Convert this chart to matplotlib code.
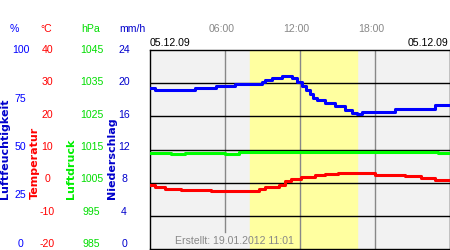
import matplotlib.pyplot as plt

# humidity (%), hours since midnight
hum_t = [0, 0.4, 3.6, 5.3, 6.8, 9.0, 9.2, 9.8, 10.6, 11.4, 11.8, 12.2, 12.5, 12.8,
         13.1, 13.4, 14.0, 14.8, 15.6, 16.2, 16.6, 17.0, 19.6, 22.8, 24]
hum_v = [81, 80, 81, 82, 83, 84, 85, 86, 87, 86, 84, 82, 80, 78,
         76, 75, 73.5, 72, 70, 68.5, 68, 69, 70.5, 72.5, 72.5]

# temperature (°C)
temp_t = [0, 0.4, 1.2, 2.5, 4.9, 8.7, 9.2, 10.3, 10.8, 11.3, 12.1, 13.2, 14.0,
          15.1, 18.0, 20.4, 21.7, 22.8, 24]
temp_v = [-0.7, -1.4, -1.8, -2.2, -2.4, -1.9, -1.4, -0.7, 0.5, 1.1, 1.6, 2.2, 2.7,
          2.9, 2.2, 2.0, 1.5, 0.8, 0.8]

# pressure (hPa)
pres_t = [0, 1.7, 2.8, 4.5, 6.0, 7.1, 8.5, 10.0, 11.5, 13.0, 15.0, 17.5, 20.0, 23.1, 24]
pres_v = [1014.0, 1013.6, 1013.9, 1013.8, 1013.6, 1014.2, 1014.1, 1014.2, 1014.2,
          1014.3, 1014.2, 1014.3, 1014.2, 1014.0, 1014.0]

hum_ticks = [100, 75, 50, 25, 0]
temp_ticks = [40, 30, 20, 10, 0, -10, -20]
pres_ticks = [1045, 1035, 1025, 1015, 1005, 995, 985]
rain_ticks = [24, 20, 16, 12, 8, 4, 0]
time_ticks = [6, 12, 18]
time_labels = ["06:00", "12:00", "18:00"]

plt.rcParams['font.family'] = ['Liberation Sans', 'DejaVu Sans']
FS = 7.6
W, H = 450, 250

fig = plt.figure(figsize=(4.5, 2.5), dpi=100)
ax = fig.add_axes([150 / W, 1 / H, 299.5 / W, 199 / H])
ax.set_facecolor('#f2f2f2')
ax.set_xlim(0, 24)
ax.set_ylim(-20, 40)
ax.axvspan(8.0, 16.6, color='#ffffa0', zorder=0.5)
for h in time_ticks:
    ax.axvline(h, color='#888888', lw=1, zorder=1,
               ymin=(249 - 232) / 199 if h == 6 else 0)
for v in [-10, 0, 10, 20, 30]:
    ax.axhline(v, color='black', lw=1, zorder=1.2)
ax.set_xticks([])
ax.set_yticks([])
for s in ax.spines.values():
    s.set_color('black')
    s.set_linewidth(1)

ax.plot(temp_t, temp_v, color='#ff0000', lw=2.2, drawstyle='steps-post', zorder=3)

ax_p = ax.twinx()
ax_p.set_ylim(985, 1045)
ax_p.plot(pres_t, pres_v, color='#00ff00', lw=2.2, drawstyle='steps-post')
ax_h = ax.twinx()
ax_h.set_ylim(0, 100)
ax_h.plot(hum_t, hum_v, color='#0000ff', lw=2.2, drawstyle='steps-post')
for a in (ax_p, ax_h):
    a.set_yticks([])
    a.set_xlim(0, 24)
    for s in a.spines.values():
        s.set_visible(False)

ax.text((175 - 150) / 299.5, (249 - 240.5) / 199, "Erstellt: 19.01.2012 11:01",
        transform=ax.transAxes, color='#888888', fontsize=FS, va='center', ha='left', zorder=5)

# time labels and dates
for h, lab in zip(time_ticks, time_labels):
    ax.text(h - 0.25, (249 - 29.5) / 199, lab, transform=ax.get_xaxis_transform(),
            color='#888888', fontsize=FS, ha='center', va='center')
fig.text(150 / W, 1 - 43 / H, "05.12.09", fontsize=FS, color='black', ha='left', va='center')
fig.text(448 / W, 1 - 43 / H, "05.12.09", fontsize=FS, color='black', ha='right', va='center')


# left scales
def ypos(v, top, rng):
    return 1 - (50 + (top - v) / rng * 194) / H


units = [("%", 14, '#0000ff'), ("°C", 46.5, '#ff0000'), ("hPa", 90.5, '#00dd00'), ("mm/h", 132, '#0000cc')]
for txt, x, c in units:
    fig.text(x / W, 1 - 29.5 / H, txt, color=c, fontsize=FS, ha='center', va='center')
for v in hum_ticks:
    fig.text(20.5 / W, ypos(v, 100, 100), str(v), color='#0000ff', fontsize=FS, ha='center', va='center')
for v in temp_ticks:
    fig.text(47.5 / W, ypos(v, 40, 60), str(v), color='#ff0000', fontsize=FS, ha='center', va='center')
for v in pres_ticks:
    fig.text(91.5 / W, ypos(v, 1045, 60), str(v), color='#00dd00', fontsize=FS, ha='center', va='center')
for v in rain_ticks:
    fig.text(124 / W, ypos(v, 24, 24), str(v), color='#0000cc', fontsize=FS, ha='center', va='center')

names = [("Luftfeuchtigkeit", 5.5, '#0000cc'), ("Temperatur", 34.5, '#ff0000'),
         ("Luftdruck", 71, '#00ee00'), ("Niederschlag", 111.5, '#0000cc')]
for txt, x, c in names:
    fig.text(x / W, 1 - 199 / H, txt, color=c, fontsize=8, fontweight='bold', rotation=90,
             ha='center', va='bottom', family='DejaVu Sans')

fig.savefig('out.png', dpi=100)
